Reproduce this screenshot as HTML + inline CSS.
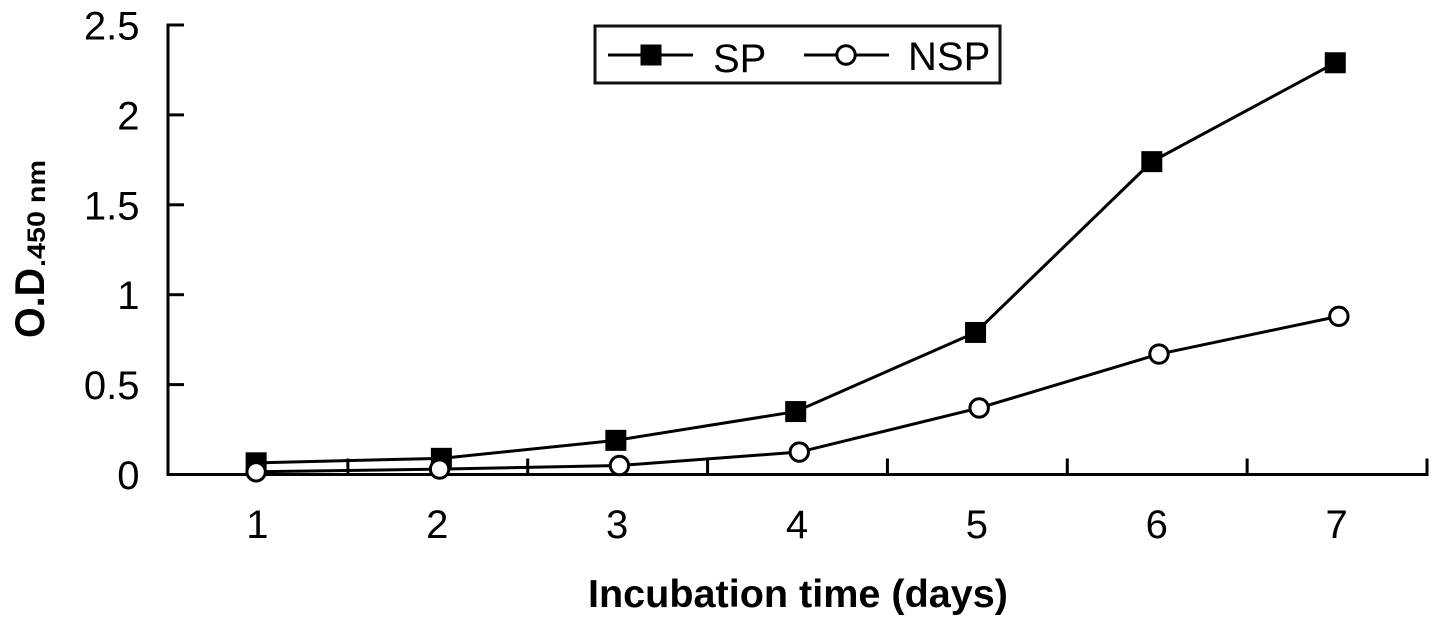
<!DOCTYPE html>
<html lang="en">
<head>
<meta charset="utf-8">
<title>O.D. 450 nm versus incubation time</title>
<style>
  html, body { margin: 0; padding: 0; background: #fff; }
  body { width: 1441px; height: 628px; overflow: hidden; }
  svg { display: block; font-family: "Liberation Sans", Arial, sans-serif; }
</style>
</head>
<body>
<svg id="chart" xmlns="http://www.w3.org/2000/svg" width="1441" height="628" viewBox="0 0 1441 628">
  <rect x="0" y="0" width="1441" height="628" fill="#fff"/>
  <g id="axes"></g>
  <g id="series"></g>

  <text x="588" y="607" font-size="39" font-weight="700" fill="#000" textLength="420" lengthAdjust="spacingAndGlyphs">Incubation time (days)</text>
  <g transform="translate(44 338) rotate(-90)">
    <text x="0" y="0" font-size="42" font-weight="700" fill="#000" textLength="70" lengthAdjust="spacingAndGlyphs">O.D</text>
    <text x="71" y="1" font-size="25" font-weight="700" fill="#000" textLength="107" lengthAdjust="spacingAndGlyphs">.450 nm</text>
  </g>

  <g>
    <rect x="595" y="26" width="405" height="57" fill="#fff" stroke="#111" stroke-width="3"/>
    <g>
      <line x1="608" y1="55" x2="693" y2="55" stroke="#000" stroke-width="3"/>
      <rect x="640.500" y="44.500" width="21" height="21" fill="#000"/>
      <text x="713" y="72" font-size="40" fill="#000">SP</text>
    </g>
    <g>
      <line x1="804" y1="55" x2="889" y2="55" stroke="#000" stroke-width="3"/>
      <circle cx="846" cy="55" r="9.200" fill="#fff" stroke="#000" stroke-width="3"/>
      <text x="908" y="70" font-size="40" fill="#000">NSP</text>
    </g>
  </g>
</svg>

<script>
// Values
const yTicks = [0, 0.5, 1, 1.5, 2, 2.5];
const yTickLabels = ['0', '0.5', '1', '1.5', '2', '2.5'];
const xTickLabels = ['1', '2', '3', '4', '5', '6', '7'];
// The markers in the source sit slightly off the category centres, so each series keeps its own day readings
const spDays = [0.99, 2.02, 2.99, 3.99, 4.99, 5.97, 6.99];
const spValues = [0.065, 0.09, 0.19, 0.35, 0.79, 1.74, 2.29];
const nspDays = [0.99, 2.01, 3.01, 4.01, 5.01, 6.01, 7.01];
const nspValues = [0.015, 0.03, 0.05, 0.125, 0.37, 0.67, 0.88];

const SVG_NS = 'http://www.w3.org/2000/svg';
const axisLeft = 168, axisRight = 1427, axisBottom = 474.5, axisTop = 25;
const dayWidth = (axisRight - axisLeft) / 7;
const tickLength = 16;
const strokeW = 3;

function xScale(day) { return axisLeft + (day - 0.5) * dayWidth; }
function yScale(v) { return axisBottom - (v / 2.5) * (axisBottom - axisTop); }

function make(tag, attrs, parent) {
  const el = document.createElementNS(SVG_NS, tag);
  for (const k in attrs) el.setAttribute(k, attrs[k]);
  parent.appendChild(el);
  return el;
}

const axes = document.getElementById('axes');
const series = document.getElementById('series');

const yAxisLine = make('line', { x1: axisLeft, y1: axisTop - 1.5, x2: axisLeft, y2: axisBottom + 1.5, stroke: '#000', 'stroke-width': strokeW }, axes);



const xAxisLine = make('line', { x1: axisLeft - 1.5, y1: axisBottom, x2: axisRight + 1.5, y2: axisBottom, stroke: '#000', 'stroke-width': strokeW }, axes);



yTicks.forEach(function (v, i) {
  const y = yScale(v);
  if (v !== 0) {
    const tick = make('line', { x1: axisLeft, y1: y, x2: axisLeft + tickLength, y2: y, stroke: '#000', 'stroke-width': strokeW }, axes);
    
    
  }
  const label = make('text', { x: 139.5, y: y + 14.5, 'font-size': 40, 'text-anchor': 'end', fill: '#000' }, axes);
  
  
  label.textContent = yTickLabels[i];
});

xTickLabels.forEach(function (t, i) {
  const right = axisLeft + (i + 1) * dayWidth;
  const tick = make('line', { x1: right, y1: axisBottom, x2: right, y2: axisBottom - tickLength, stroke: '#000', 'stroke-width': strokeW }, axes);
  
  
  const label = make('text', { x: xScale(i + 1) - 0.5, y: 538, 'font-size': 40, 'text-anchor': 'middle', fill: '#000' }, axes);
  
  
  label.textContent = t;
});

function linePoints(days, values) {
  return days.map(function (d, i) { return xScale(d) + ',' + yScale(values[i]); }).join(' ');
}

const spLine = make('polyline', { points: linePoints(spDays, spValues), fill: 'none', stroke: '#000', 'stroke-width': strokeW }, series);



const nspLine = make('polyline', { points: linePoints(nspDays, nspValues), fill: 'none', stroke: '#000', 'stroke-width': strokeW }, series);



spValues.forEach(function (v, i) {
  const m = make('rect', { x: xScale(spDays[i]) - 10.5, y: yScale(v) - 10.5, width: 21, height: 21, fill: '#000' }, series);
  
  
});

nspValues.forEach(function (v, i) {
  const m = make('circle', { cx: xScale(nspDays[i]), cy: yScale(v), r: 9.2, fill: '#fff', stroke: '#000', 'stroke-width': strokeW }, series);
  
  
});
</script>
</body>
</html>
